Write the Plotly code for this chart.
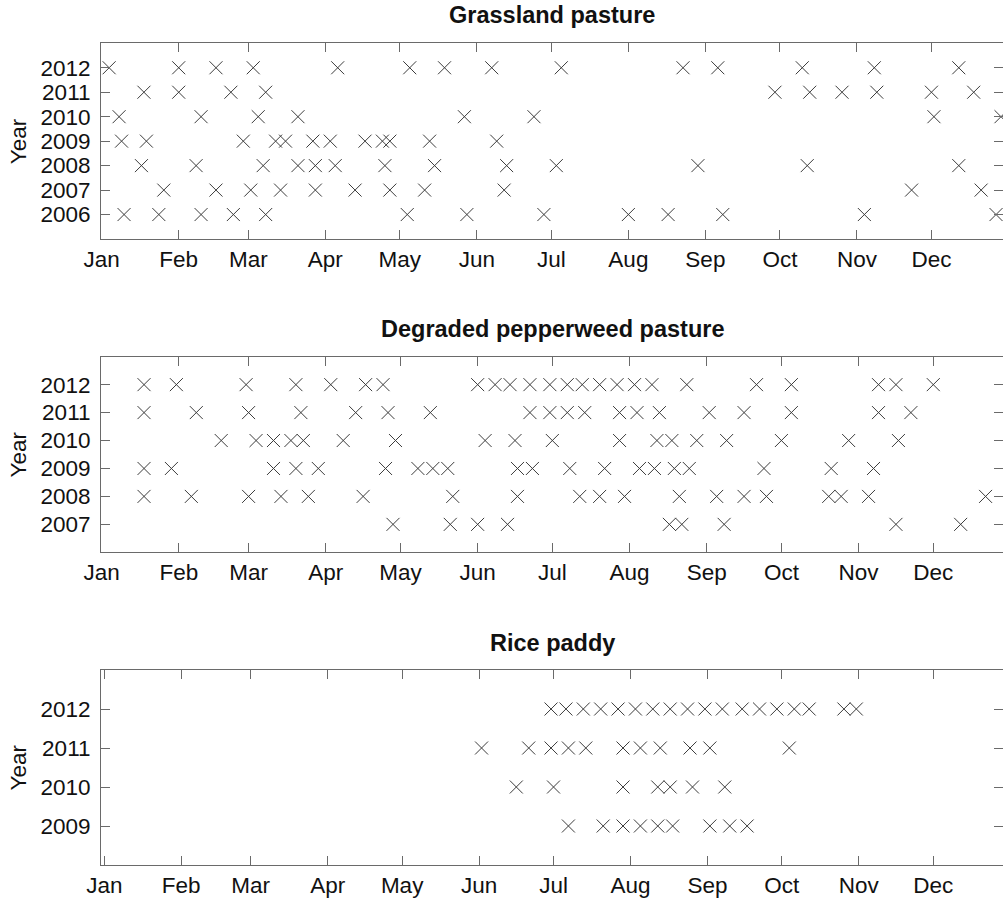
import plotly.graph_objects as go

# ---------------- data (day of year of each observation) ----------------
month_ticks = [1, 32, 60, 91, 121, 152, 182, 213, 244, 274, 305, 335]
month_labels = ["Jan", "Feb", "Mar", "Apr", "May", "Jun",
                "Jul", "Aug", "Sep", "Oct", "Nov", "Dec"]

grass_years = [2006, 2007, 2008, 2009, 2010, 2011, 2012]
grass_2012 = [4, 32, 47, 62, 96, 125, 139, 158, 186, 235, 249, 283, 312, 346]
grass_2011 = [18, 32, 53, 67, 272, 286, 299, 313, 335, 352]
grass_2010 = [8, 41, 64, 80, 147, 175, 336, 363]
grass_2009 = [9, 19, 58, 71, 75, 86, 93, 107, 114, 117, 133, 160]
grass_2008 = [17, 39, 66, 80, 87, 95, 115, 135, 164, 184, 241, 285, 346]
grass_2007 = [26, 47, 61, 73, 87, 103, 117, 131, 163, 327, 355]
grass_2006 = [10, 24, 41, 54, 67, 124, 148, 179, 213, 229, 251, 308, 361]

pepper_years = [2007, 2008, 2009, 2010, 2011, 2012]
pepper_2012 = [18, 31, 59, 79, 93, 107, 114, 152, 159, 165, 173, 181, 188, 194,
               201, 208, 215, 222, 236, 264, 278, 313, 320, 335]
pepper_2011 = [18, 39, 60, 81, 103, 116, 133, 173, 181, 188, 195, 209, 216, 225,
               245, 259, 278, 313, 326]
pepper_2010 = [49, 63, 70, 77, 82, 98, 119, 155, 167, 182, 209, 224, 230, 240,
               252, 274, 301, 321]
pepper_2009 = [18, 29, 70, 79, 88, 115, 128, 134, 140, 168, 174, 189, 203, 217,
               223, 231, 237, 267, 294, 311]
pepper_2008 = [18, 37, 60, 73, 84, 106, 142, 168, 193, 201, 211, 233, 248, 259,
               268, 293, 298, 309, 356]
pepper_2007 = [118, 141, 152, 164, 229, 234, 251, 320, 346]

rice_years = [2009, 2010, 2011, 2012]
rice_2012 = [181, 187, 194, 201, 208, 215, 222, 229, 236, 243, 250, 258, 265,
             272, 279, 285, 299, 304]
rice_2011 = [153, 172, 181, 188, 195, 210, 217, 225, 237, 245, 277]
rice_2010 = [167, 182, 210, 224, 229, 238, 251]
rice_2009 = [188, 202, 210, 217, 224, 230, 245, 253, 260]

panels = [
    ("Grassland pasture", grass_years,
     {2012: grass_2012, 2011: grass_2011, 2010: grass_2010, 2009: grass_2009,
      2008: grass_2008, 2007: grass_2007, 2006: grass_2006}),
    ("Degraded pepperweed pasture", pepper_years,
     {2012: pepper_2012, 2011: pepper_2011, 2010: pepper_2010, 2009: pepper_2009,
      2008: pepper_2008, 2007: pepper_2007}),
    ("Rice paddy", rice_years,
     {2012: rice_2012, 2011: rice_2011, 2010: rice_2010, 2009: rice_2009}),
]

# ---------------- layout geometry ----------------
W, H = 1003, 901
ML = 101
# plot-area pixel extents (top, bottom) of each panel
panel_px = [(43.3, 239.0), (356.7, 552.3), (670.0, 865.0)]
x_ranges = [[0.72, 363.8], [0.72, 363.0], [-0.33, 363.1]]
y_ranges = [[2005, 2013], [2006, 2013], [2008, 2013]]
title_px = [15, 329, 643]

FONT = "Liberation Sans, Arial, Helvetica, sans-serif"
AXC = "#6a6a6a"
MKC = "#3c3c3c"
TICKSIZE = 22.5

fig = go.Figure()
layout = dict(
    width=W, height=H,
    margin=dict(l=ML, r=0, t=0, b=0),
    paper_bgcolor="white", plot_bgcolor="white",
    showlegend=False,
    font=dict(family=FONT, size=22, color="#111"),
    annotations=[],
)

for i, (title, years, rows) in enumerate(panels):
    n = "" if i == 0 else str(i + 1)
    top, bot = panel_px[i]
    dom = [1 - bot / H, 1 - top / H]
    for yr in years:
        days = rows[yr]
        fig.add_trace(go.Scatter(
            x=days, y=[yr] * len(days), mode="markers",
            xaxis="x" + n, yaxis="y" + n,
            marker=dict(symbol="x-thin", size=13, color=MKC,
                        line=dict(width=1, color=MKC)),
            hoverinfo="skip",
        ))
    layout["xaxis" + n] = dict(
        domain=[0, 1], anchor="y" + n, range=x_ranges[i],
        tickmode="array", tickvals=month_ticks, ticktext=month_labels,
        ticks="inside", ticklen=9, tickwidth=1, tickcolor=AXC,
        showline=True, linecolor=AXC, linewidth=1, mirror="ticks",
        showgrid=False, zeroline=False, ticklabelstandoff=0,
        tickfont=dict(family=FONT, size=TICKSIZE, color="#111"),
    )
    layout["yaxis" + n] = dict(
        domain=dom, anchor="x" + n, range=y_ranges[i],
        tickmode="array", tickvals=years, ticktext=[str(y) for y in years],
        ticks="inside", ticklen=9, tickwidth=1, tickcolor=AXC,
        showline=True, linecolor=AXC, linewidth=1, mirror="ticks",
        showgrid=False, zeroline=False, ticklabelstandoff=5,
        tickfont=dict(family=FONT, size=TICKSIZE, color="#111"),
    )
    layout["annotations"].append(dict(
        text="<b>" + title + "</b>", xref="paper", yref="paper",
        x=0.5, y=1 - title_px[i] / H, xanchor="center", yanchor="middle",
        showarrow=False, font=dict(family=FONT, size=23.5, color="#111"),
    ))
    layout["annotations"].append(dict(
        text="Year", xref="paper", yref="paper", textangle=-90,
        x=(18 - ML) / (W - ML), y=(dom[0] + dom[1]) / 2,
        xanchor="center", yanchor="middle", showarrow=False,
        font=dict(family=FONT, size=TICKSIZE, color="#111"),
    ))

fig.update_layout(**layout)
fig.write_html("out.html")
